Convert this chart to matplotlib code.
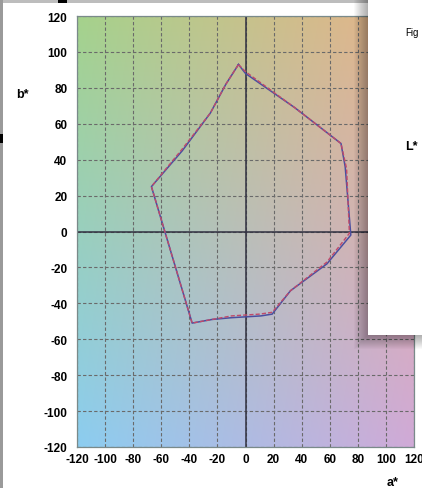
import numpy as np
import matplotlib
matplotlib.use("Agg")
import matplotlib.pyplot as plt
from matplotlib.patches import Rectangle

plt.rcParams["axes.unicode_minus"] = False

# ---- data ----
blue_a = [-5, 0, 35, 68, 71, 75, 58, 32, 19, 11, -10, -24, -38, -67, -45, -25, -14, -5]
blue_b = [93, 88, 69, 49, 36, -2, -18, -33, -46, -47, -48, -49, -51, 25, 45, 66, 82, 93]
red_a = [-5, 0, 35, 68, 72, 74, 58, 32, 19, 10, -10, -24, -38, -67, -45, -25, -14, -5]
red_b = [93, 89, 69, 49, 35, -1, -17, -33, -45, -46, -47, -49, -51, 25, 46, 66, 82, 93]
ticks = [-120, -100, -80, -60, -40, -20, 0, 20, 40, 60, 80, 100, 120]

W, H = 422, 489
fig = plt.figure(figsize=(W / 100, H / 100), dpi=100)
fig.patch.set_facecolor("white")

ax = fig.add_axes([77 / W, 1 - 448 / H, 337 / W, 431 / H])

# background colour gradient (a*b* plane tint)
tl = np.array([165, 210, 140]) / 255
tr = np.array([232, 178, 140]) / 255
bl = np.array([140, 205, 240]) / 255
br = np.array([208, 170, 215]) / 255
n = 120
u = np.linspace(0, 1, n)[None, :, None]
v = np.linspace(0, 1, n)[:, None, None]
top = tl * (1 - u) + tr * u
bot = bl * (1 - u) + br * u
img = top * (1 - v) + bot * v
ax.imshow(img, extent=[-120, 120, -120, 120], origin="upper", aspect="auto",
          interpolation="bilinear", zorder=0)

ax.set_xlim(-120, 120)
ax.set_ylim(-120, 120)
ax.set_xticks(ticks)
ax.set_yticks(ticks)
ax.grid(True, color="#6a6a6a", linestyle=(0, (3, 2)), linewidth=0.8, zorder=1)
ax.axhline(0, color="#303040", lw=1.1, zorder=2)
ax.axvline(0, color="#303040", lw=1.1, zorder=2)

ax.plot(blue_a, blue_b, color="#4a4fa0", lw=1.1, zorder=3)
ax.plot(red_a, red_b, color="#c04a6a", lw=1.0, linestyle=(0, (3, 1.5)), zorder=4)

for s in ax.spines.values():
    s.set_color("#7a8a8a")
    s.set_linewidth(0.9)
ax.tick_params(length=0, labelsize=8.5)
ax.tick_params(axis="y", pad=7)
ax.tick_params(axis="x", pad=4)
for lab in ax.get_xticklabels() + ax.get_yticklabels():
    lab.set_fontfamily("Liberation Sans")
    lab.set_fontweight("bold")

fig.text(22 / W, 1 - 95 / H, "b*", fontsize=9, fontweight="bold",
         family="Liberation Sans", ha="center", va="center")
fig.text(393 / W, 1 - 483 / H, "a*", fontsize=9, fontweight="bold",
         family="Liberation Sans", ha="center", va="center")

# window frame remnants
def frect(x0, y0, x1, y1, **kw):
    fig.patches.append(Rectangle((x0 / W, 1 - y1 / H), (x1 - x0) / W, (y1 - y0) / H,
                                 transform=fig.transFigure, figure=fig, **kw))

frect(0, 0, 368, 4, color="#bdbdbd", lw=0, zorder=10)
frect(58, 0, 67, 4, color="black", lw=0, zorder=11)
frect(0, 0, 3, H, color="#9a9a9a", lw=0, zorder=10)
frect(0, 135, 3, 144, color="black", lw=0, zorder=11)

# overlapping window with shadow
for i in range(14, 0, -1):
    frect(368 - i, 0, W, 336 + i, color="black", alpha=0.022, lw=0, zorder=12)
frect(368, 0, W, 336, color="white", lw=0, zorder=13)
fig.text(405 / W, 1 - 33 / H, "Fig", fontsize=7, family="Liberation Sans",
         ha="left", va="center", zorder=14)
fig.text(405 / W, 1 - 147 / H, "L*", fontsize=9, fontweight="bold",
         family="Liberation Sans", ha="left", va="center", zorder=14)

fig.savefig("out.png", dpi=100)
